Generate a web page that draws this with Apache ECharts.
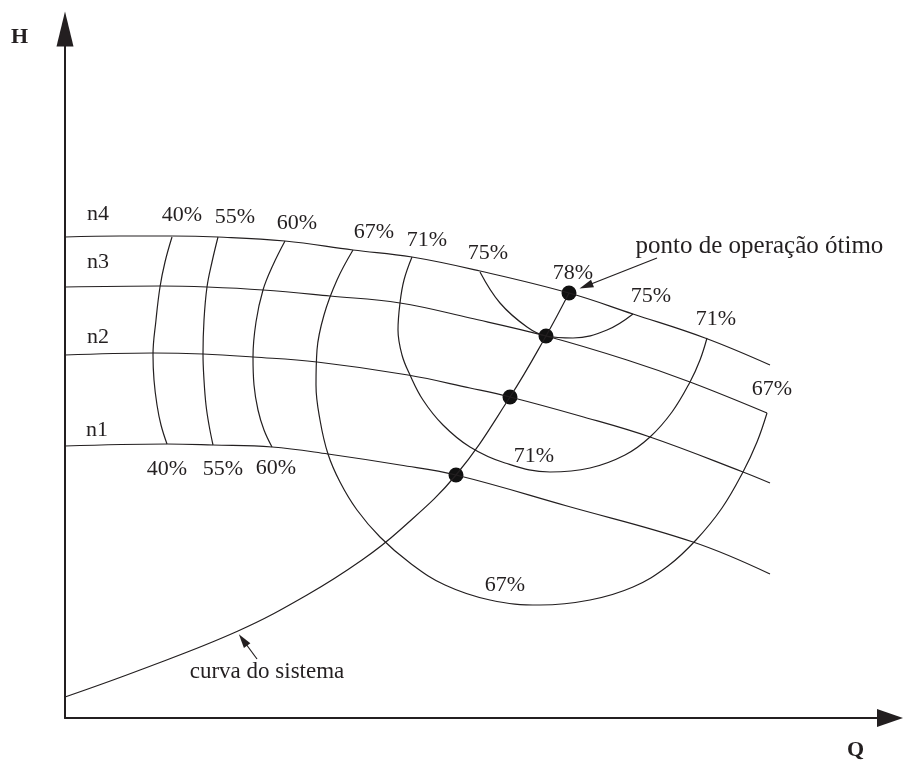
<!DOCTYPE html>
<html>
<head>
<meta charset="utf-8">
<script src="https://cdn.jsdelivr.net/npm/echarts@6/dist/echarts.min.js"></script>
<style>
  html, body { margin: 0; padding: 0; background: #fff; }
  #chart { width: 904px; height: 764px; }
</style>
</head>
<body>
<div id="chart"></div>
<script>
// head curves for each speed, [Q, H]
const n4 = [[0,481],[55,482],[107,482],[153,481],[220,477],[288,468],[347,461],[415,447],[504,425],[568,404],[640,380],[705,353]];
const n3 = [[0,431],[95,432],[142,431],[198,428],[265,422],[335,415],[405,400],[481,382],[562,358],[625,336],[702,305]];
const n2 = [[0,363],[88,365],[138,364],[188,361],[252,356],[343,343],[405,330],[445,321],[515,302],[585,281],[678,246],[705,235]];
const n1 = [[0,272],[102,274],[148,273],[207,271],[263,264],[335,253],[391,243],[502,212],[628,176],[705,144]];

// iso-efficiency curves
const eff40 = [[107,481],[100,456],[95,431],[91,398],[88,363],[89,338],[92,313],[96,293],[102,274]];
const eff55 = [[153,481],[147,456],[142,431],[139,398],[138,364],[139,338],[141,313],[144,293],[148,273]];
const eff60 = [[220,477],[208,453],[198,428],[191,396],[188,361],[189,333],[193,308],[199,288],[207,271]];
const eff67 = [[288,468],[272,438],[259,403],[252,368],[251,333],[255,298],[263,264],[275,236],[292,208],[315,181],[345,155],
  [380,133],[425,118],[475,113],[525,118],[568,131],[603,152],[631,178],[657,210],[678,246],[692,276],[702,305]];
const eff71 = [[347,461],[339,438],[335,415],[333,388],[337,363],[345,343],[358,318],[378,293],[405,271],[440,255],[485,246],
  [525,250],[560,263],[585,281],[607,306],[625,336],[635,358],[642,380]];
const eff75 = [[415,446],[435,415],[462,391],[481,382],[508,380],[542,388],[568,404]];

// system curve and operating points
const systemCurve = [[0,21],[75,48],[173,87],[242,123],[297,158],[335,188],[391,243],[445,321],[481,382],[504,425]];
const operatingPoints = [[504,425],[481,382],[445,321],[391,243]];

// labels
const speedLabels = [['n4',33,504],['n3',33,456],['n2',33,381],['n1',32,288]];
const effLabels = [
  ['40%',117,503],['55%',170,501],['60%',232,495],['67%',309,486],['71%',362,478],
  ['75%',423,465],['78%',508,445],['75%',586,422],['71%',651,399],['67%',707,329],
  ['40%',102,249],['55%',158,249],['60%',211,250],['71%',469,262],['67%',440,133]
];
const notes = [['ponto de operação ótimo',570,472,'right',25],['curva do sistema',202,46,'inside',23]];
const noteArrows = [[[592,460],[521,432]],[[192,59],[178,78]]];

const ink = '#231f20';
const font = 'Liberation Serif';

const chart = echarts.init(document.getElementById('chart'));

const curve = (data) => ({
  type: 'line', data, smooth: 0.4, showSymbol: false, silent: true,
  lineStyle: { color: ink, width: 1.2 }
});

const textSeries = (items, size) => ({
  type: 'scatter', silent: true, symbolSize: 1,
  itemStyle: { color: 'rgba(0,0,0,0)', opacity: 1 },
  data: items.map(d => ({
    name: d[0], value: [d[1], d[2]],
    label: { position: d[3] || 'inside', distance: 0, fontSize: d[4] || size }
  })),
  label: {
    show: true, formatter: '{b}', color: ink,
    fontFamily: font, fontSize: size
  }
});

chart.setOption({
  animation: false,
  grid: { left: 65, right: 14, top: 29, bottom: 46 },
  xAxis: {
    type: 'value', min: 0, max: 825,
    axisLine: { lineStyle: { color: ink, width: 2 }, symbol: ['none', 'triangle'], symbolSize: [18, 26] },
    axisTick: { show: false }, axisLabel: { show: false }, splitLine: { show: false }
  },
  yAxis: {
    type: 'value', min: 0, max: 689,
    axisLine: { lineStyle: { color: ink, width: 2 }, symbol: ['none', 'triangle'], symbolSize: [17, 35] },
    axisTick: { show: false }, axisLabel: { show: false }, splitLine: { show: false }
  },
  graphic: [
    { type: 'text', left: 11, top: 26, style: { text: 'H', font: 'bold 22px "Liberation Serif"', fill: ink } },
    { type: 'text', left: 847, top: 739, style: { text: 'Q', font: 'bold 22px "Liberation Serif"', fill: ink } }
  ],
  series: [
    curve(n4), curve(n3), curve(n2), curve(n1),
    curve(eff40), curve(eff55), curve(eff60), curve(eff67), curve(eff71), curve(eff75),
    Object.assign(curve(systemCurve), {
      markLine: {
        silent: true, symbol: ['none', 'triangle'], symbolSize: [8, 14],
        label: { show: false },
        lineStyle: { color: ink, width: 1.2, type: 'solid' },
        data: noteArrows.map(a => [{ coord: a[0] }, { coord: a[1] }])
      }
    }),
    {
      type: 'scatter', silent: true, data: operatingPoints,
      symbolSize: 15, itemStyle: { color: '#111', opacity: 1 }
    },
    textSeries(speedLabels, 22),
    textSeries(effLabels, 22),
    textSeries(notes, 23)
  ]
});
</script>
</body>
</html>
